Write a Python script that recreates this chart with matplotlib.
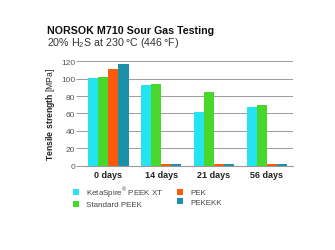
import matplotlib
matplotlib.use("Agg")
import matplotlib.pyplot as plt
import numpy as np

plt.rcParams["font.family"] = ["Liberation Sans", "DejaVu Sans"]
plt.rcParams["mathtext.fontset"] = "custom"
plt.rcParams["mathtext.rm"] = "Liberation Sans"
plt.rcParams["mathtext.bf"] = "Liberation Sans:bold"

# Datos
periods = ["0 days", "14 days", "21 days", "56 days"]
series = ["KetaSpire$^{\\circledR}$ PEEK XT", "Standard PEEK", "PEK", "PEKEKK"]
keta_xt = [101, 93, 62, 67]
std_peek = [102, 94, 85, 70]
pek = [111, 2, 2, 2]
pekekk = [117, 2, 2, 2]
colors = ["#25E3F0", "#4AD72C", "#FF5A0A", "#1B90A8"]

fig = plt.figure(figsize=(3.35, 2.51), dpi=100)
ax = fig.add_axes([0.245, 0.336, 0.63, 0.416])

x = np.arange(len(periods))
w = 0.19
for i, (vals, col) in enumerate(zip([keta_xt, std_peek, pek, pekekk], colors)):
    ax.bar(x + (i - 1.5) * w, vals, w, color=col, label=series[i], zorder=3)

ax.set_xlim(-0.5, 3.5)
ax.set_ylim(0, 120)
ax.set_yticks(range(0, 121, 20))
ax.yaxis.grid(True, color="#9a9a9a", lw=0.7, zorder=0)
for s in ("top", "right", "left"):
    ax.spines[s].set_visible(False)
ax.spines["bottom"].set_color("#9a9a9a")
ax.tick_params(axis="y", length=4, width=0.7, color="#9a9a9a", labelsize=6, labelcolor="#555555", pad=1)
ax.tick_params(axis="x", length=0, pad=3)
ax.set_xticks(x)
ax.set_xticklabels(periods, fontsize=6.5, fontweight="bold", color="#222222")
ax.set_ylabel(r"$\bf{Tensile\ strength}$ [MPa]", fontsize=6.2, color="#222222", labelpad=3)

fig.text(0.14, 0.865, "NORSOK M710 Sour Gas Testing", fontsize=7.7, fontweight="bold", color="#111111")
fig.text(0.14, 0.815, "20% H$_2$S at 230\u2009°C (446\u2009°F)", fontsize=7.7, color="#333333")

ax.legend(loc="upper left", bbox_to_anchor=(-0.07, -0.125), ncol=2, frameon=False,
          fontsize=5.8, handlelength=0.8, handleheight=0.8, handletextpad=0.8,
          columnspacing=1.7, labelspacing=0.2, borderpad=0.2, labelcolor="#444444")

fig.savefig("out.png", dpi=100)
